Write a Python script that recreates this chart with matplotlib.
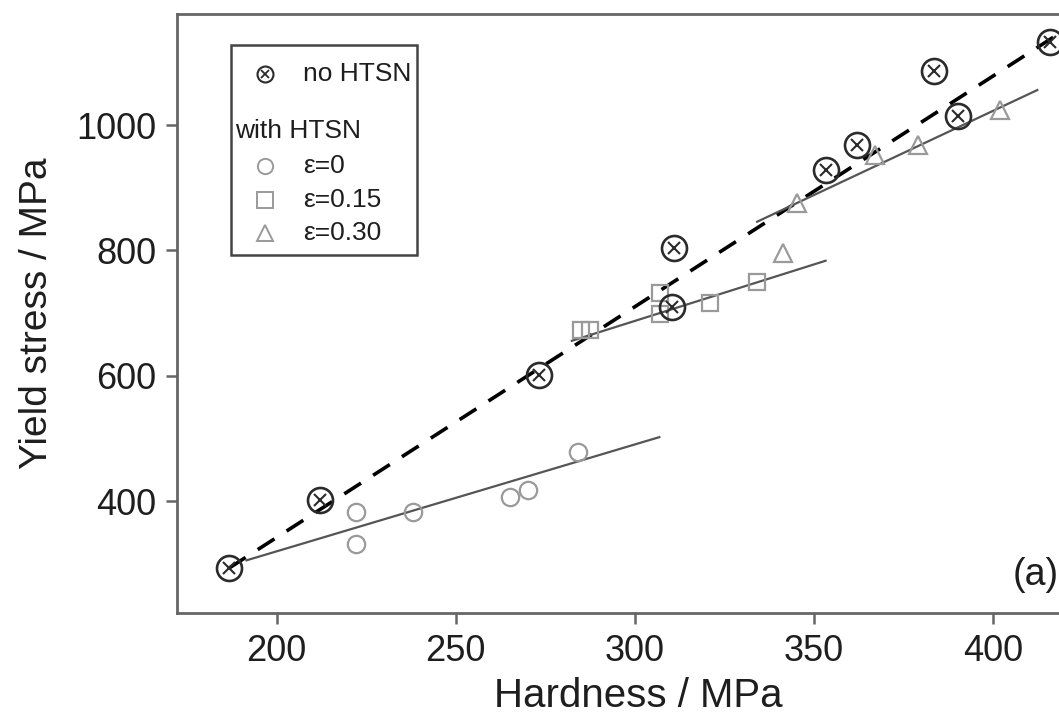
import matplotlib
matplotlib.use("Agg")
import matplotlib.pyplot as plt
from matplotlib.patches import Rectangle

plt.rcParams['font.family'] = ['Liberation Sans', 'DejaVu Sans']

# --- dati ---
# no HTSN
no_htsn_x = [186.7, 212.1, 273.3, 311.0, 310.4, 353.2, 361.9, 383.4, 390.1, 415.8]
no_htsn_y = [293.5, 401.9, 601.0, 803.8, 709.7, 928.2, 968.0, 1086.0, 1014.0, 1132.0]

# with HTSN, eps = 0
eps0_x = [222.1, 222.1, 238.2, 265.2, 270.1, 284.0]
eps0_y = [383.3, 331.7, 383.3, 407.2, 417.9, 478.0]

# with HTSN, eps = 0.15
eps15_x = [285.0, 287.5, 307.1, 307.1, 321.0, 334.2]
eps15_y = [673.0, 674.0, 732.0, 698.6, 716.0, 749.6]

# with HTSN, eps = 0.30
eps30_x = [341.2, 345.3, 367.1, 379.1, 402.0]
eps30_y = [795.8, 875.6, 952.0, 968.0, 1024.0]

# rette di regressione (estremi)
fit_dash_x = [186.7, 421.0]
fit_dash_y = [293.5, 1155.6]
fit0_x = [191.6, 306.8]
fit0_y = [306.0, 502.4]
fit15_x = [282.4, 353.2]
fit15_y = [656.0, 783.6]
fit30_x = [334.1, 412.3]
fit30_y = [845.8, 1055.8]

x_ticks = [200, 250, 300, 350, 400]
y_ticks = [400, 600, 800, 1000]

DARK = '#2b2b2b'
GREY = '#9a9a9a'
LINE = '#555555'
SPINE = '#666666'
TXT = '#1e1e1e'

fig = plt.figure(figsize=(10.59, 7.18), dpi=100)
ax = fig.add_axes([0.1671, 0.1462, 0.8385, 0.8343])

# rette
ax.plot(fit_dash_x, fit_dash_y, color='black', lw=2.6, dashes=(5.5, 4))
ax.plot(fit0_x, fit0_y, color=LINE, lw=1.6)
ax.plot(fit15_x, fit15_y, color=LINE, lw=1.6)
ax.plot(fit30_x, fit30_y, color=LINE, lw=1.6)

# punti
ax.plot(eps0_x, eps0_y, 'o', ms=12.5, mfc='none', mec=GREY, mew=1.6, ls='none')
ax.plot(eps15_x, eps15_y, 's', ms=12, mfc='none', mec=GREY, mew=1.6, ls='none')
ax.plot(eps30_x, eps30_y, '^', ms=13, mfc='none', mec=GREY, mew=1.6, ls='none')
ax.plot(no_htsn_x, no_htsn_y, 'o', ms=18, mfc='none', mec=DARK, mew=1.9, ls='none')
ax.plot(no_htsn_x, no_htsn_y, 'x', ms=8.5, mec=DARK, mew=1.5, ls='none')

ax.set_xlim(172.2, 420)
ax.set_ylim(222, 1177)
ax.set_xticks(x_ticks)
ax.set_yticks(y_ticks)

for side in ['top', 'bottom', 'left']:
    ax.spines[side].set_color(SPINE)
    ax.spines[side].set_linewidth(2)
ax.spines['right'].set_visible(False)
ax.tick_params(direction='out', length=8, width=1.8, color=SPINE,
               labelsize=26, labelcolor=TXT, pad=7)

ax.set_xlabel("Hardness / MPa", fontsize=29, color=TXT)
ax.xaxis.set_label_coords(0.52, -0.106)
ax.set_ylabel("Yield stress / MPa", fontsize=28, color=TXT)
ax.yaxis.set_label_coords(-0.137, 0.5)

ax.text(405.4, 282, "(a)", fontsize=27, ha='left', va='center',
        color=TXT, clip_on=False)

# --- legenda disegnata a mano ---
tr = ax.transAxes
ax.add_patch(Rectangle((0.0608, 0.598), 0.2093, 0.350, transform=tr,
                       fill=False, ec='#444444', lw=1.8))
mx, tx = 0.099, 0.1418
ax.plot([mx], [0.900], 'o', ms=11.5, mfc='none', mec=DARK, mew=1.5, transform=tr)
ax.plot([mx], [0.900], 'x', ms=5.5, mec=DARK, mew=1.3, transform=tr)
ax.text(tx, 0.900, "no HTSN", transform=tr, fontsize=19, va='center', color=TXT)
ax.text(0.0653, 0.805, "with HTSN", transform=tr, fontsize=19, va='center', color=TXT)
ax.plot([mx], [0.746], 'o', ms=11, mfc='none', mec=GREY, mew=1.4, transform=tr)
ax.text(tx, 0.746, "ε=0", transform=tr, fontsize=19, va='center', color=TXT)
ax.plot([mx], [0.689], 's', ms=11, mfc='none', mec=GREY, mew=1.4, transform=tr)
ax.text(tx, 0.689, "ε=0.15", transform=tr, fontsize=19, va='center', color=TXT)
ax.plot([mx], [0.634], '^', ms=12, mfc='none', mec=GREY, mew=1.4, transform=tr)
ax.text(tx, 0.634, "ε=0.30", transform=tr, fontsize=19, va='center', color=TXT)

fig.savefig("out.png", dpi=100)
